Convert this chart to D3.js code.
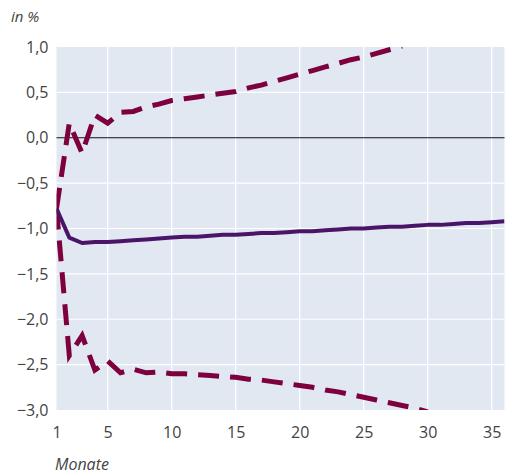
<!DOCTYPE html>
<html>
<head>
<meta charset="utf-8">
<script src="https://cdn.jsdelivr.net/npm/d3@7"></script>
<style>
  html, body { margin: 0; padding: 0; background: #fff; }
  svg text { font-family: "Open Sans", Lato, sans-serif; fill: #444; }
</style>
</head>
<body>
<svg id="chart" width="512" height="475"></svg>
<script>
// Months after the shock
const months = d3.range(1, 37);

// Central response (in %)
const central = [-0.78, -1.10, -1.16, -1.15, -1.15, -1.14, -1.13, -1.12, -1.11, -1.10,
  -1.09, -1.09, -1.08, -1.07, -1.07, -1.06, -1.05, -1.05, -1.04, -1.03,
  -1.03, -1.02, -1.01, -1.00, -1.00, -0.99, -0.98, -0.98, -0.97, -0.96,
  -0.96, -0.95, -0.94, -0.94, -0.93, -0.92];

// Upper confidence band (ends where it leaves the plotted range)
const upper = [-0.78, 0.16, -0.17, 0.25, 0.16, 0.28, 0.29, 0.34, 0.37, 0.41,
  0.43, 0.45, 0.47, 0.49, 0.51, 0.55, 0.58, 0.62, 0.66, 0.70,
  0.74, 0.78, 0.82, 0.86, 0.89, 0.93, 0.97, 1.01];

// Lower confidence band
const lower = [-0.78, -2.40, -2.18, -2.56, -2.46, -2.59, -2.55, -2.59, -2.58, -2.60,
  -2.60, -2.61, -2.62, -2.63, -2.64, -2.66, -2.67, -2.69, -2.71, -2.73,
  -2.75, -2.78, -2.80, -2.83, -2.86, -2.89, -2.92, -2.95, -2.98, -3.02];

const xTicks = [1, 5, 10, 15, 20, 25, 30, 35];
const yTicks = [1.0, 0.5, 0.0, -0.5, -1.0, -1.5, -2.0, -2.5, -3.0];

const svg = d3.select("#chart");
const plot = { left: 56.5, right: 504.5, top: 47, bottom: 410 };

const x = d3.scaleLinear().domain([1, 36]).range([plot.left, plot.right]);
const y = d3.scaleLinear().domain([-3, 1]).range([plot.bottom, plot.top]);

// Plot background
svg.append("rect")
  .attr("x", plot.left).attr("y", plot.top)
  .attr("width", plot.right - plot.left).attr("height", plot.bottom - plot.top)
  .attr("fill", "#e2e8f2");

svg.append("clipPath").attr("id", "plotClip")
  .append("rect")
  .attr("x", plot.left).attr("y", plot.top)
  .attr("width", plot.right - plot.left).attr("height", plot.bottom - plot.top);

// Gridlines
const grid = svg.append("g");
grid.selectAll("line.v").data(xTicks.filter(d => d > 1)).join("line")
  .attr("x1", d => x(d)).attr("x2", d => x(d))
  .attr("y1", plot.top).attr("y2", plot.bottom)
  .attr("stroke", "#fff").attr("stroke-width", 1.2);
grid.selectAll("line.h").data(yTicks.filter(d => d !== 0 && d > -3 && d < 1)).join("line")
  .attr("x1", plot.left).attr("x2", plot.right)
  .attr("y1", d => y(d)).attr("y2", d => y(d))
  .attr("stroke", "#fff").attr("stroke-width", 1.2);

// Zero line
svg.append("line")
  .attr("x1", plot.left).attr("x2", plot.right)
  .attr("y1", y(0)).attr("y2", y(0))
  .attr("stroke", "#111").attr("stroke-width", 1);

// Axes (labels only)
const fmt = d => d3.format(".1f")(d).replace(".", ",").replace("-", "\u2212");
const yAxis = svg.append("g")
  .attr("transform", `translate(${plot.left - 8},0)`)
  .call(d3.axisLeft(y).tickValues(yTicks).tickFormat(fmt).tickSize(0).tickPadding(0));
yAxis.select(".domain").remove();
yAxis.selectAll("text").attr("font-size", 16).attr("fill", "#444")
  .attr("font-family", "'Open Sans', Lato, sans-serif");

const xAxis = svg.append("g")
  .attr("transform", `translate(0,${plot.bottom + 17})`)
  .call(d3.axisBottom(x).tickValues(xTicks).tickFormat(d3.format("d")).tickSize(0).tickPadding(0));
xAxis.select(".domain").remove();
xAxis.selectAll("text").attr("font-size", 16).attr("fill", "#444")
  .attr("font-family", "'Open Sans', Lato, sans-serif");

// Axis titles
svg.append("text").attr("x", 11).attr("y", 22)
  .attr("font-size", 15).attr("font-style", "italic").text("in %");
svg.append("text").attr("x", 55).attr("y", 470)
  .attr("font-size", 16).attr("font-style", "italic").text("Monate");

// Lines
const line = d3.line().x((d, i) => x(months[i])).y(d => y(d));
const lines = svg.append("g").attr("clip-path", "url(#plotClip)");

lines.append("path").datum(upper)
  .attr("d", line).attr("fill", "none")
  .attr("stroke", "#7d003f").attr("stroke-width", 5)
  .attr("stroke-dasharray", "21 11");
lines.append("path").datum(lower)
  .attr("d", line).attr("fill", "none")
  .attr("stroke", "#7d003f").attr("stroke-width", 5)
  .attr("stroke-dasharray", "21 11");
lines.append("path").datum(central)
  .attr("d", line).attr("fill", "none")
  .attr("stroke", "#4a1568").attr("stroke-width", 4)
  .attr("stroke-linejoin", "round");
</script>
</body>
</html>
